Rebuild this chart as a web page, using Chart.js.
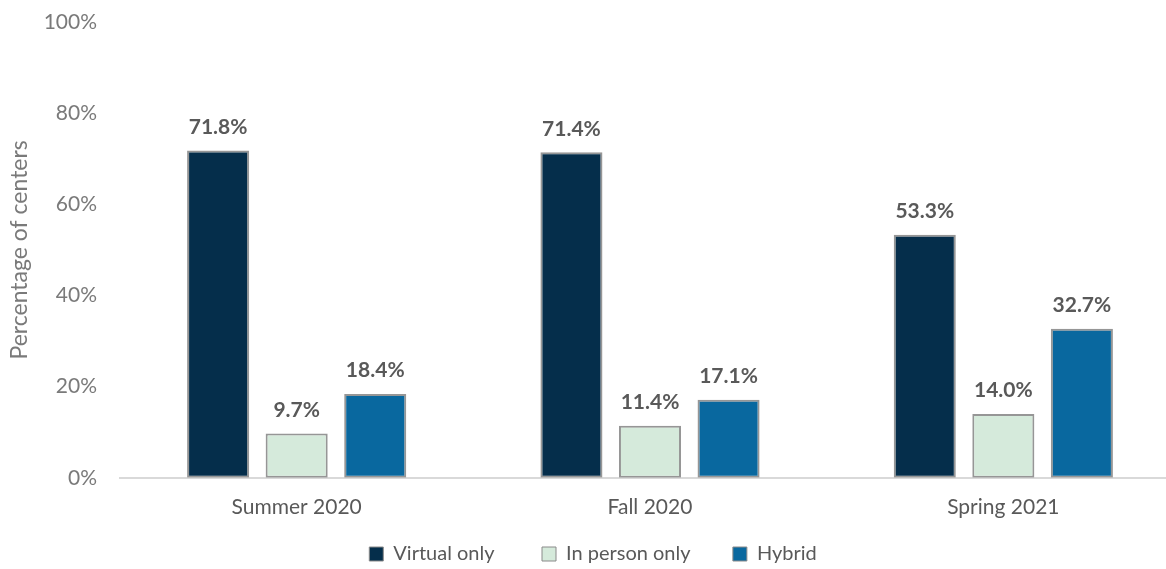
<!DOCTYPE html>
<html>
<head>
<meta charset="utf-8">
<script src="https://cdn.jsdelivr.net/npm/chart.js@4.4.1/dist/chart.umd.min.js"></script>
<style>
  html, body { margin: 0; padding: 0; background: #fff; overflow: hidden; }
  #frame { width: 1166px; height: 569px; overflow: hidden; }
  /* the plot runs slightly past the right edge of the frame */
  #wrap { width: 1180px; height: 569px; position: relative; }
</style>
</head>
<body>
<div id="frame"><div id="wrap"><canvas id="modes"></canvas></div></div>
<script>
// Program delivery mode by term, share of centers
const terms = ['Summer 2020', 'Fall 2020', 'Spring 2021'];
const virtualOnly = [71.8, 71.4, 53.3];
const inPersonOnly = [9.7, 11.4, 14.0];
const hybrid = [18.4, 17.1, 32.7];
const yTicks = [0, 20, 40, 60, 80, 100];

const FONT = 'Lato, "Open Sans", sans-serif';
const legendGaps = [8, 7, 0]; // non-breaking spaces after each legend entry

// prints the value above each bar, e.g. "71.8%"
const valueLabels = {
  id: 'valueLabels',
  afterDatasetsDraw(chart) {
    const ctx = chart.ctx;
    ctx.save();
    ctx.font = `bold 21px ${FONT}`;
    ctx.fillStyle = '#595959';
    ctx.textAlign = 'center';
    ctx.textBaseline = 'bottom';
    chart.data.datasets.forEach((ds, i) => {
      chart.getDatasetMeta(i).data.forEach((bar, j) => {
        ctx.fillText(ds.data[j].toFixed(1) + '%', bar.x, bar.y - 13);
      });
    });
    ctx.restore();
  },
};

function series(label, data, color) {
  return {
    label,
    data,
    backgroundColor: color,
    borderColor: '#969696',
    borderWidth: 2,
    borderSkipped: false,
    categoryPercentage: 0.667,
    barPercentage: 0.79,
  };
}

new Chart(document.getElementById('modes'), {
  type: 'bar',
  data: {
    labels: terms,
    datasets: [
      series('Virtual only', virtualOnly, '#052e4b'),
      series('In person only', inPersonOnly, '#d5eadb'),
      series('Hybrid', hybrid, '#09689f'),
    ],
  },
  plugins: [valueLabels],
  options: {
    responsive: true,
    maintainAspectRatio: false,
    animation: false,
    layout: { padding: { top: 10, right: 0, left: 6, bottom: -5 } },
    plugins: {
      legend: {
        position: 'bottom',
        labels: {
          color: '#595959',
          font: { family: FONT, size: 20 },
          boxWidth: 14,
          boxHeight: 14,
          padding: 7,
          generateLabels(chart) {
            return chart.data.datasets.map((ds, i) => ({
              text: ds.label + '\u00a0'.repeat(legendGaps[i]),
              fillStyle: ds.backgroundColor,
              strokeStyle: '#8a8a8a',
              lineWidth: 1,
              datasetIndex: i,
              fontColor: '#595959',
            }));
          },
        },
      },
      tooltip: { enabled: false },
    },
    scales: {
      x: {
        grid: { display: false, drawTicks: false },
        border: { color: '#d9d9d9', width: 2 },
        ticks: { color: '#595959', font: { family: FONT, size: 21 }, padding: 17 },
      },
      y: {
        min: 0,
        max: 100,
        afterBuildTicks(axis) { axis.ticks = yTicks.map(v => ({ value: v })); },
        afterFit(axis) {
          axis.width = 114;
          axis.paddingTop = 22;
          axis.paddingBottom = 12;
        },
        grid: { display: false, drawTicks: false },
        border: { display: false },
        ticks: {
          color: '#7a7a7a',
          font: { family: FONT, size: 21 },
          padding: 23,
          callback: v => v + '%',
        },
        title: {
          display: true,
          text: 'Percentage of centers',
          color: '#7a7a7a',
          font: { family: FONT, size: 23 },
          padding: { top: 0, bottom: 11 },
        },
      },
    },
  },
});
</script>
</body>
</html>
